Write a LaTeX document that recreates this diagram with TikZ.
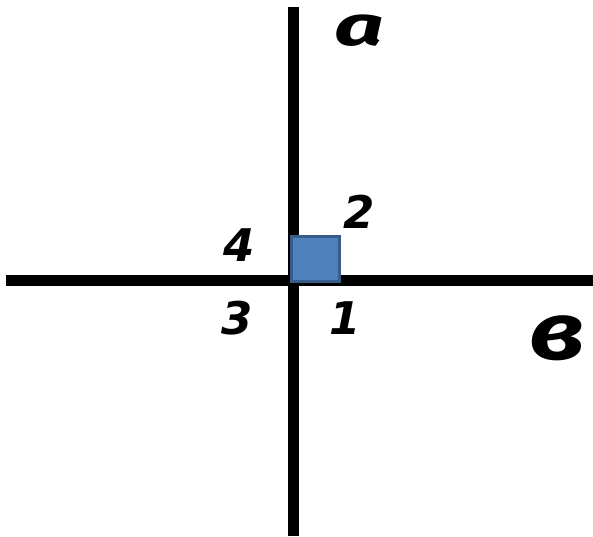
\documentclass[tikz,border=0pt]{standalone}
\usepackage{fontspec}
\setmainfont{DejaVu Sans}
\newfontfamily\letfont{Fira Sans}
\usepackage{xcolor}
\usetikzlibrary{positioning}
\definecolor{sqfill}{HTML}{4F81BD}
\definecolor{sqedge}{HTML}{385D8A}

\begin{document}
\begin{tikzpicture}[x=1pt, y=-1pt,
  axis/.style={line width=11pt, black},
  num/.style={inner sep=0pt, font=\fontsize{45}{45}\selectfont\bfseries\itshape},
  let/.style={inner sep=0pt, font=\letfont\fontsize{#1}{#1}\selectfont\bfseries\itshape}]
\useasboundingbox (0,0) rectangle (593,536);
% the two lines
\coordinate (vt) at (293,7);
\coordinate (vb) at (293,536);
\coordinate (hl) at (6,280);
\coordinate (hr) at (593,280);
\draw[axis] (vt) -- (vb);
\draw[axis] (hl) -- (hr);
% right-angle mark
\node[draw=sqedge, fill=sqfill, line width=3pt, minimum width=48pt, minimum height=45pt,
      inner sep=0pt] (sq) at (315.5,259) {};
% labels
\node[let=56, xscale=1.55] (la) at (359,31) {а};
\node[let=80, xscale=1.25] (lb) at (557,338) {в};
\node[num] (n2) at (359,212) {2};
\node[num] (n4) at (239,245) {4};
\node[num] (n3) at (237,318) {3};
\node[num] (n1) at (345,318) {1};
\end{tikzpicture}
\end{document}
